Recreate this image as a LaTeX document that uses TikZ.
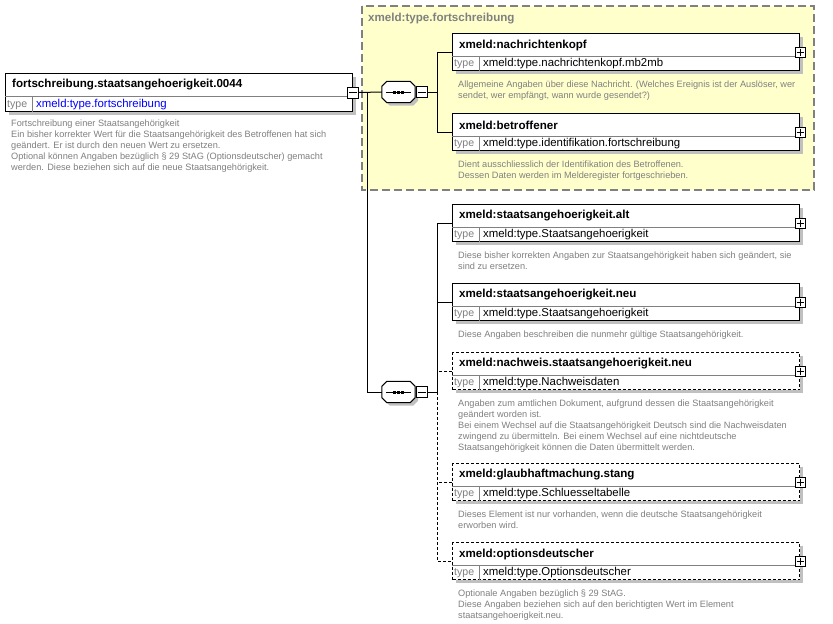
\documentclass[tikz,border=0pt]{standalone}
\usepackage{fontspec}
\setmainfont{Liberation Sans}
\definecolor{shadowgray}{HTML}{C0C0C0}
\definecolor{descgray}{HTML}{808080}
\definecolor{divgray}{HTML}{808080}
\definecolor{boxyellow}{HTML}{FFFFCC}
\definecolor{linkblue}{HTML}{0000FF}
\tikzset{
  conn/.style={draw=black, line width=1pt},
  elnode/.style={rectangle, draw=black, fill=white, line width=1pt, inner sep=0pt, anchor=north west},
  dashedborder/.style={dash pattern=on 3pt off 2pt},
  solidborder/.style={solid},
  divider/.style={draw=divgray, line width=1pt},
  titletext/.style={font=\fontsize{11.6}{14}\selectfont\bfseries, inner sep=0pt, anchor=west},
  typelbl/.style={font=\fontsize{10.6}{13}\selectfont, text=divgray, inner sep=0pt, anchor=west},
  typeval/.style={font=\fontsize{11.4}{13}\selectfont, inner sep=0pt, anchor=west},
  desc/.style={font=\fontsize{9.2}{11}\selectfont, text=descgray, align=left, inner sep=0pt, anchor=north west},
  pmbox/.style={rectangle, draw=black, fill=white, line width=1pt, minimum size=10pt, inner sep=0pt},
  seqnode/.style={rectangle, draw=none, minimum width=33pt, minimum height=21pt, inner sep=0pt},
}
\def\descshift{-10pt}
% #1 name, #2 x, #3 y, #4 height, #5 border style, #6 title, #7 type, #8 description
\newcommand\elbox[8]{%
  \fill[shadowgray] ({#2+4},{#3+4}) rectangle ({#2+351},{#3+#4+4});
  \node[elnode,#5, minimum width=347pt, minimum height=#4pt] (#1) at (#2,#3) {};
  \draw[divider] ([yshift=-23pt]#1.north west) -- ([yshift=-23pt]#1.north east);
  \draw[divider] ([xshift=27pt,yshift=-23pt]#1.north west) -- ([xshift=27pt]#1.south west);
  \node[titletext] (#1-title) at ([xshift=7pt,yshift=-12pt]#1.north west) {#6};
  \node[typelbl] (#1-tl) at ([xshift=2pt,yshift=7pt]#1.south west) {type};
  \node[typeval] (#1-tv) at ([xshift=31pt,yshift=7pt]#1.south west) {#7};
  \node[desc] (#1-desc) at ([xshift=6pt,yshift=\descshift]#1.south west) {#8};
}
\newcommand\plusbox[1]{%
  \node[pmbox] (#1-p) at (#1.east) {};
  \draw[line width=1pt] ([xshift=2pt]#1-p.west) -- ([xshift=-2pt]#1-p.east);
  \draw[line width=1pt] ([yshift=-2pt]#1-p.north) -- ([yshift=2pt]#1-p.south);
}
% octagon outline around node #1, shifted by (#3,#4) canvas, with style #2
\newcommand\octagonpath[4]{%
  \path[#2] ([xshift=5pt+#3,yshift=#4]#1.north west) -- ([xshift=-5pt+#3,yshift=#4]#1.north east)
    -- ([xshift=#3,yshift=-5pt+#4]#1.north east) -- ([xshift=#3,yshift=5pt+#4]#1.south east)
    -- ([xshift=-5pt+#3,yshift=#4]#1.south east) -- ([xshift=5pt+#3,yshift=#4]#1.south west)
    -- ([xshift=#3,yshift=5pt+#4]#1.south west) -- ([xshift=#3,yshift=-5pt+#4]#1.north west) -- cycle;
}
\newcommand\seqsym[3]{% name, x, y
  \node[seqnode] (#1) at (#2,#3) {};
  \octagonpath{#1}{fill=shadowgray}{3pt}{-3pt}
  \octagonpath{#1}{draw=black, fill=white, line width=1pt}{0pt}{0pt}
  \draw[line width=1pt] ([xshift=4pt]#1.west) -- ([xshift=-4pt]#1.east);
  \fill ([xshift=-5.5pt,yshift=-1.5pt]#1.center) rectangle ([xshift=-2.5pt,yshift=1.5pt]#1.center);
  \fill ([xshift=-1.5pt,yshift=-1.5pt]#1.center) rectangle ([xshift=1.5pt,yshift=1.5pt]#1.center);
  \fill ([xshift=2.5pt,yshift=-1.5pt]#1.center) rectangle ([xshift=5.5pt,yshift=1.5pt]#1.center);
  \node[pmbox, minimum size=11pt] (#1-m) at ({#2+23},#3) {};
  \draw[line width=1pt] ([xshift=2pt]#1-m.west) -- ([xshift=-2pt]#1-m.east);
}
\begin{document}
\begin{tikzpicture}[x=1pt,y=-1pt]
\fill[white] (0,0) rectangle (833,624);
\useasboundingbox (0,0) rectangle (833,624);

% complex type frame
\draw[draw=divgray, fill=boxyellow, line width=1.5pt, dash pattern=on 8pt off 4pt] (362,6) rectangle (814,190);
\node[titletext, text=divgray] (ctype) at (368,19) {xmeld:type.fortschreibung};

% root element
\def\descshift{-8pt}
\elbox{root}{5}{73}{38}{solidborder}{fortschreibung.staatsangehoerigkeit.0044}{\color{linkblue}xmeld:type.fortschreibung}{Fortschreibung einer Staatsangehörigkeit\\Ein bisher korrekter Wert für die Staatsangehörigkeit des Betroffenen hat sich\\geändert. Er ist durch den neuen Wert zu ersetzen.\\Optional können Angaben bezüglich § 29 StAG (Optionsdeutscher) gemacht\\werden. Diese beziehen sich auf die neue Staatsangehörigkeit.}
\node[pmbox, minimum size=11pt] (rootm) at (root.east) {};
\draw[line width=1pt] ([xshift=2pt]rootm.west) -- ([xshift=-2pt]rootm.east);
\def\descshift{-10pt}

% sequences
\seqsym{seqa}{398.5}{92}
\seqsym{seqb}{398.5}{392}

% children of first sequence
\elbox{nach}{452}{33}{37}{solidborder}{xmeld:nachrichtenkopf}{xmeld:type.nachrichtenkopf.mb2mb}{Allgemeine Angaben über diese Nachricht. (Welches Ereignis ist der Auslöser, wer\\sendet, wer empfängt, wann wurde gesendet?)}
\plusbox{nach}
\elbox{betr}{452}{113}{37}{solidborder}{xmeld:betroffener}{xmeld:type.identifikation.fortschreibung}{Dient ausschliesslich der Identifikation des Betroffenen.\\Dessen Daten werden im Melderegister fortgeschrieben.}
\plusbox{betr}

% children of second sequence
\elbox{alt}{452}{204}{37}{solidborder}{xmeld:staatsangehoerigkeit.alt}{xmeld:type.Staatsangehoerigkeit}{Diese bisher korrekten Angaben zur Staatsangehörigkeit haben sich geändert, sie\\sind zu ersetzen.}
\plusbox{alt}
\elbox{neu}{452}{283}{37}{solidborder}{xmeld:staatsangehoerigkeit.neu}{xmeld:type.Staatsangehoerigkeit}{Diese Angaben beschreiben die nunmehr gültige Staatsangehörigkeit.}
\plusbox{neu}
\elbox{nachw}{452}{352}{37}{dashedborder}{xmeld:nachweis.staatsangehoerigkeit.neu}{xmeld:type.Nachweisdaten}{Angaben zum amtlichen Dokument, aufgrund dessen die Staatsangehörigkeit\\geändert worden ist.\\Bei einem Wechsel auf die Staatsangehörigkeit Deutsch sind die Nachweisdaten\\zwingend zu übermitteln. Bei einem Wechsel auf eine nichtdeutsche\\Staatsangehörigkeit können die Daten übermittelt werden.}
\plusbox{nachw}
\elbox{glaub}{452}{463}{37}{dashedborder}{xmeld:glaubhaftmachung.stang}{xmeld:type.Schluesseltabelle}{Dieses Element ist nur vorhanden, wenn die deutsche Staatsangehörigkeit\\erworben wird.}
\plusbox{glaub}
\elbox{opt}{452}{542}{37}{dashedborder}{xmeld:optionsdeutscher}{xmeld:type.Optionsdeutscher}{Optionale Angaben bezüglich § 29 StAG.\\Diese Angaben beziehen sich auf den berichtigten Wert im Element\\staatsangehoerigkeit.neu.}
\plusbox{opt}

% connectors
\coordinate (ja) at (367,92);
\coordinate (jb) at (437,92);
\coordinate (jc) at (437,392);
\draw[conn] (rootm.east) -- (seqa.west);
\draw[conn] (ja) |- (seqb.west);
\draw[conn] (seqa-m.east) -- (jb);
\draw[conn] (nach.west) -| (jb);
\draw[conn] (betr.west) -| (jb);
\draw[conn] (seqb-m.east) -- (jc);
\draw[conn] (alt.west) -| (jc);
\draw[conn] (neu.west) -| (jc);
\draw[conn, dash pattern=on 3pt off 2pt] (nachw.west) -- (nachw.west -| jc);
\draw[conn, dash pattern=on 3pt off 2pt] (glaub.west) -- (glaub.west -| jc);
\draw[conn, dash pattern=on 3pt off 2pt] (jc) |- (opt.west);
\end{tikzpicture}
\end{document}
